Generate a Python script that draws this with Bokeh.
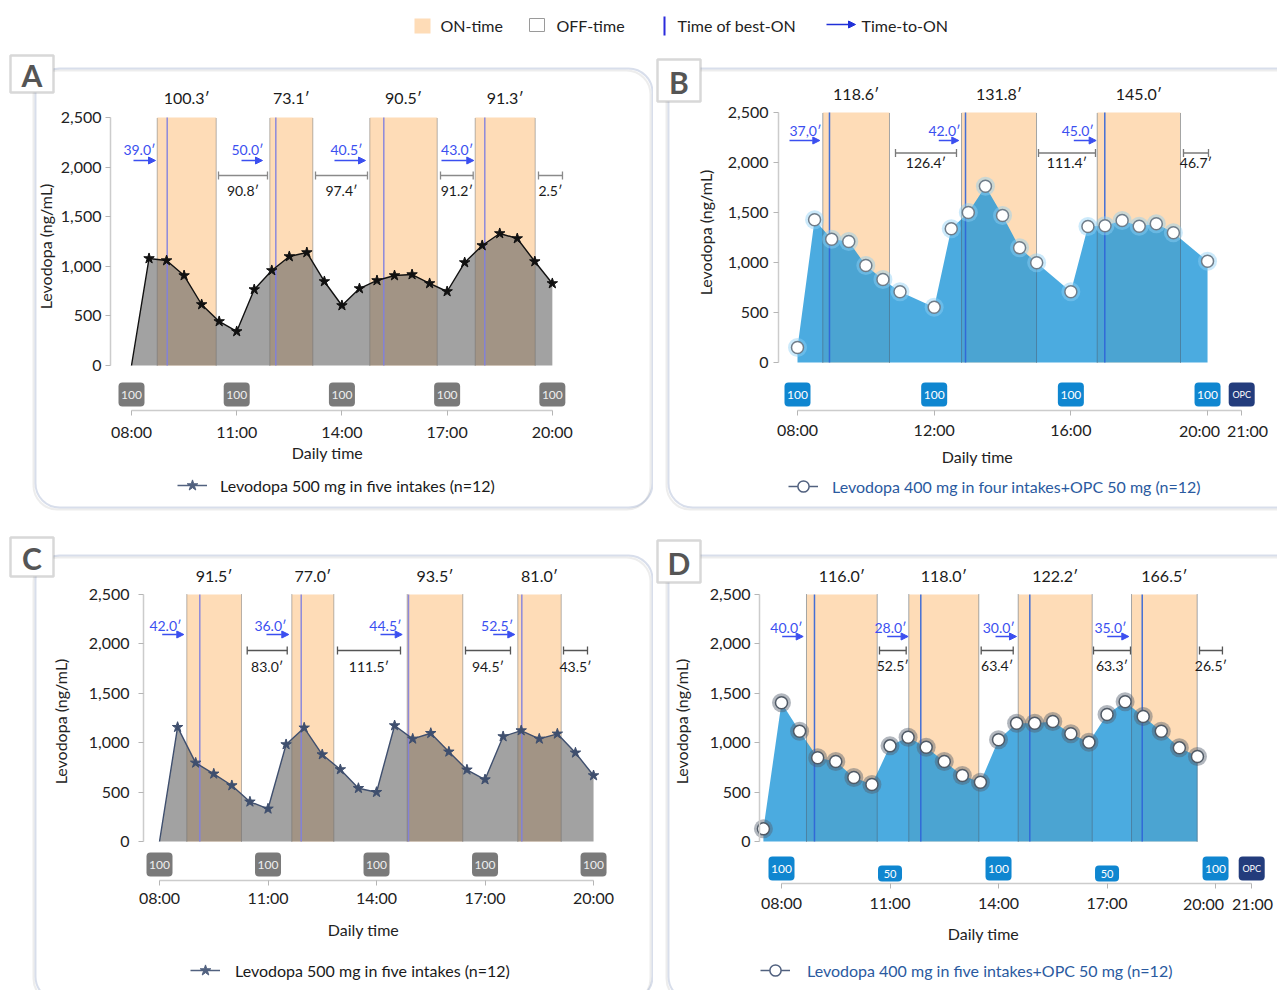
import math
from bokeh.plotting import figure
from bokeh.models import (Range1d, FixedTicker, NumeralTickFormatter, ColumnDataSource,
                          Arrow, NormalHead, Whisker, TeeHead, BoxAnnotation, Label,
                          Legend, LegendItem, LinearAxis)
from bokeh.layouts import column, row
from bokeh.core.properties import value
from bokeh.embed import file_html
from bokeh.resources import INLINE

FONT = "Lato"
NAN = float("nan")

# ---------------- DATA ----------------
# Panel A : Levodopa 500 mg in five intakes
a_t = [8.0, 8.5, 9.0, 9.5, 10.0, 10.5, 11.0, 11.5, 12.0, 12.5, 13.0, 13.5, 14.0,
       14.5, 15.0, 15.5, 16.0, 16.5, 17.0, 17.5, 18.0, 18.5, 19.0, 19.5, 20.0]
a_v = [0, 1079, 1058, 907, 615, 444, 343, 766, 958, 1099, 1139, 847, 605,
       776, 857, 907, 917, 827, 746, 1038, 1210, 1331, 1280, 1048, 827]
a_on_start = [8.733, 11.944, 14.795, 17.800]
a_on_end = [10.415, 13.170, 16.717, 19.511]
a_best = [9.018, 12.115, 15.194, 18.074]
a_on_lab = ["100.3′", "73.1′", "90.5′", "91.3′"]
a_off_start = [10.481, 13.247, 16.811, 19.605]
a_off_end = [11.878, 14.729, 17.743, 20.289]
a_off_lab = ["90.8′", "97.4′", "91.2′", "2.5′"]
a_tto_start = [8.057, 11.137, 13.788, 16.839]
a_tto_end = [8.684, 11.735, 14.672, 17.760]
a_tto_labx = [8.228, 11.308, 14.131, 17.287]
a_tto_lab = ["39.0′", "50.0′", "40.5′", "43.0′"]
a_dose_t = [8, 11, 14, 17, 20]
a_dose_lab = ["100", "100", "100", "100", "100"]
a_xticks = [8, 11, 14, 17, 20]
a_xlabels = ["08:00", "11:00", "14:00", "17:00", "20:00"]

# Panel B : Levodopa 400 mg in four intakes + OPC 50 mg
b_t = [8.0, 8.5, 9.0, 9.5, 10.0, 10.5, 11.0, 12.0, 12.5, 13.0, 13.5, 14.0, 14.5,
       15.0, 16.0, 16.5, 17.0, 17.5, 18.0, 18.5, 19.0, 20.0]
b_v = [150, 1427, 1233, 1210, 970, 830, 707, 553, 1337, 1500, 1763, 1470, 1147,
       997, 707, 1360, 1367, 1420, 1363, 1387, 1297, 1013]
b_on_start = [8.740, 12.800, 16.771]
b_on_end = [10.692, 14.995, 19.209]
b_best = [8.936, 12.917, 16.993]
b_on_lab = ["118.6′", "131.8′", "145.0′"]
b_off_start = [10.868, 15.053, 19.296]
b_off_end = [12.653, 16.721, 20.028]
b_off_lab = ["126.4′", "111.4′", "46.7′"]
b_tto_start = [7.766, 12.135, 16.086]
b_tto_end = [8.653, 12.720, 16.740]
b_tto_labx = [8.234, 12.302, 16.203]
b_tto_lab = ["37,0′", "42.0′", "45.0′"]
b_dose_t = [8, 12, 16, 20, 21]
b_dose_lab = ["100", "100", "100", "100", "OPC"]
b_xticks = [8, 12, 16, 20, 21]
b_xlabels = ["08:00", "12:00", "16:00", "20:00", "21:00"]

# Panel C : Levodopa 500 mg in five intakes
c_t = [8.0, 8.5, 9.0, 9.5, 10.0, 10.5, 11.0, 11.5, 12.0, 12.5, 13.0, 13.5, 14.0,
       14.5, 15.0, 15.5, 16.0, 16.5, 17.0, 17.5, 18.0, 18.5, 19.0, 19.5, 20.0]
c_v = [0, 1157, 796, 685, 567, 402, 331, 982, 1151, 880, 729, 539, 499,
       1174, 1039, 1096, 908, 726, 627, 1063, 1123, 1039, 1090, 898, 668]
c_on_start = [8.755, 11.658, 14.848, 17.906]
c_on_end = [10.267, 12.819, 16.385, 19.106]
c_best = [9.114, 11.918, 14.884, 18.017]
c_on_lab = ["91.5′", "77.0′", "93.5′", "81.0′"]
c_off_start = [10.425, 12.921, 16.460, 19.170]
c_off_end = [11.531, 14.663, 17.704, 19.833]
c_off_lab = ["83.0′", "111.5′", "94.5′", "43.5′"]
c_tto_start = [8.075, 10.958, 14.110, 17.226]
c_tto_end = [8.672, 11.575, 14.710, 17.823]
c_tto_labx = [8.166, 11.069, 14.248, 17.336]
c_tto_lab = ["42.0′", "36.0′", "44.5′", "52.5′"]
c_dose_t = [8, 11, 14, 17, 20]
c_dose_lab = ["100", "100", "100", "100", "100"]
c_xticks = [8, 11, 14, 17, 20]
c_xlabels = ["08:00", "11:00", "14:00", "17:00", "20:00"]

# Panel D : Levodopa 400 mg in five intakes + OPC 50 mg
d_t = [7.5, 8.0, 8.5, 9.0, 9.5, 10.0, 10.5, 11.0, 11.5, 12.0, 12.5, 13.0, 13.5,
       14.0, 14.5, 15.0, 15.5, 16.0, 16.5, 17.0, 17.5, 18.0, 18.5, 19.0, 19.5]
d_v = [128, 1404, 1116, 847, 810, 648, 577, 968, 1056, 954, 810, 668, 600,
       1029, 1197, 1197, 1214, 1090, 1005, 1285, 1414, 1265, 1116, 948, 860]
d_on_start = [8.691, 11.519, 14.544, 17.677]
d_on_end = [10.646, 13.455, 16.590, 19.493]
d_best = [8.912, 11.851, 14.865, 17.973]
d_on_lab = ["116.0′", "118.0′", "122.2′", "166.5′"]
d_off_start = [10.709, 13.521, 16.626, 19.557]
d_off_end = [11.447, 14.406, 17.649, 20.191]
d_off_lab = ["52.5′", "63.4′", "63.3′", "26.5′"]
d_tto_start = [8.019, 10.922, 13.917, 17.005]
d_tto_end = [8.600, 11.500, 14.497, 17.602]
d_tto_labx = [8.138, 11.014, 14.008, 17.096]
d_tto_lab = ["40.0′", "28.0′", "30.0′", "35.0′"]
d_dose_t = [8, 11, 14, 17, 20, 21]
d_dose_lab = ["100", "50", "100", "50", "100", "OPC"]
d_xticks = [8, 11, 14, 17, 20, 21]
d_xlabels = ["08:00", "11:00", "14:00", "17:00", "20:00", "21:00"]

y_ticks = [0, 500, 1000, 1500, 2000, 2500]

# ---------------- STYLE ----------------
PEACH = "#fedcb7"
TTO_BLUE = "#3b4ff0"
BORDER = "#7f92bd"
TXT = "#222222"


def build_panel(d, cfg):
    fx, fy, fw, fh = cfg["box"]
    x8, pph, y0, y25 = cfg["scale"]
    upp = 2500.0 / (y0 - y25)

    def X(px):
        return 8 + (px - x8) / pph

    def Y(py):
        return (y0 - py) * upp

    p = figure(width=fw, height=fh,
               x_range=Range1d(X(fx), X(fx + fw)), y_range=Range1d(Y(fy + fh), Y(fy)),
               x_axis_location=None, y_axis_location=None, min_border=0,
               output_backend="svg", toolbar_location=None)
    p.outline_line_color = None
    p.grid.visible = False
    p.background_fill_color = "white"
    p.border_fill_color = "white"

    # ---- axes (placed at fixed positions) ----
    def style_axis(ax):
        ax.axis_line_color = "#cccccc"
        ax.axis_line_width = 1.5
        ax.major_tick_line_color = "#b5b5b5"
        ax.minor_tick_line_color = None
        ax.major_tick_out = 5
        ax.major_tick_in = 0
        ax.major_label_text_font = FONT
        ax.major_label_text_font_size = "16px"
        ax.major_label_text_color = TXT

    yax = LinearAxis(fixed_location=X(cfg["yaxis_px"]), ticker=FixedTicker(ticks=y_ticks),
                     formatter=NumeralTickFormatter(format="0,0"), bounds=(0, 2500))
    style_axis(yax)
    yax.major_label_standoff = cfg["ystand"]
    p.add_layout(yax, "left")

    labels_of = {t: l for t, l in zip(d["xticks"], d["xlabels"])}
    sep = cfg.get("xsep", {})           # ticks whose labels sit beside the tick
    main_ticks = [t for t in d["xticks"] if t not in sep]
    xax = LinearAxis(fixed_location=Y(cfg["xaxis_py"]), ticker=FixedTicker(ticks=main_ticks),
                     bounds=(d["xticks"][0], d["xticks"][-1]))
    style_axis(xax)
    xax.major_label_overrides = {t: labels_of[t] for t in main_ticks}
    xax.major_label_standoff = cfg["xstand"]
    p.add_layout(xax, "below")
    if sep:
        xax2 = LinearAxis(fixed_location=Y(cfg["xaxis_py"]),
                          ticker=FixedTicker(ticks=sorted(sep)),
                          bounds=(d["xticks"][0], d["xticks"][-1]))
        style_axis(xax2)
        xax2.axis_line_color = None
        xax2.major_label_overrides = {t: "" for t in sep}
        xax2.major_label_text_font_size = "1px"
        p.add_layout(xax2, "below")
        for t, px in sep.items():
            p.add_layout(Label(x=X(px), y=Y(cfg["xtl_py"]), text=labels_of[t],
                               text_font=FONT, text_font_size="16px", text_color=TXT,
                               text_align="center", text_baseline="middle"))

    # axis titles
    lx, ly = cfg["xlab"]
    p.add_layout(Label(x=X(lx), y=Y(ly), text="Daily time", text_font=FONT,
                       text_font_size="16px", text_color=TXT, text_align="center",
                       text_baseline="middle"))
    lx, ly = cfg["ylab"]
    p.add_layout(Label(x=X(lx), y=Y(ly), text="Levodopa (ng/mL)", angle=math.pi / 2,
                       text_font=FONT, text_font_size="16px", text_color=TXT,
                       text_align="center", text_baseline="middle"))

    # ---- ON-time bands ----
    bs = ColumnDataSource(dict(l=d["on_start"], r=d["on_end"], best=d["best"],
                               mid=[(a + b) / 2 for a, b in zip(d["on_start"], d["on_end"])],
                               lab=d["on_lab"]))
    p.quad(left="l", right="r", bottom=0, top=2500, source=bs,
           fill_color=PEACH, line_color=None)

    # concentration area
    p.varea(x=d["t"], y1=0, y2=d["v"], fill_color=cfg["area"], fill_alpha=cfg["area_alpha"])

    # band edges and best-ON lines
    for col in ("l", "r"):
        p.segment(x0=col, y0=0, x1=col, y1=2500, source=bs, line_color=cfg["edge"],
                  line_dash="1 1", line_width=1)
    p.segment(x0="best", y0=0, x1="best", y1=2500, source=bs, line_color=cfg["best_c"],
              line_width=1.5, line_alpha=0.9)

    # curve + markers
    if cfg["kind"] == "star":
        p.line(d["t"], d["v"], line_color=cfg["line"], line_width=1.4)
        p.scatter(d["t"][1:], d["v"][1:], marker="star", size=11,
                  fill_color=cfg["line"], line_color=cfg["line"])
    else:
        p.scatter(d["t"], d["v"], marker="circle", size=19, fill_color=cfg["glow"],
                  fill_alpha=0.45, line_color=None)
        p.scatter(d["t"], d["v"], marker="circle", size=12, fill_color="white",
                  line_color=cfg["mk_edge"], line_width=1.5)

    # ON duration labels
    p.text(x="mid", y=Y(cfg["rows"]["dur"]), text="lab", source=bs, text_font=value(FONT),
           text_font_size="16px", text_align="center", text_baseline="middle",
           text_color="#1a1a1a")

    # OFF-time brackets
    n = len(d["off_start"])
    os_ = ColumnDataSource(dict(x0=d["off_start"], x1=d["off_end"],
                                y=[Y(cfg["rows"]["off"])] * n,
                                ly=[Y(cfg["rows"]["offl"])] * n,
                                xm=[(a + b) / 2 for a, b in zip(d["off_start"], d["off_end"])],
                                lab=d["off_lab"]))
    p.add_layout(Whisker(source=os_, base="y", lower="x0", upper="x1", dimension="width",
                         line_color=cfg["brk"], line_width=1.3,
                         lower_head=TeeHead(size=8, line_color=cfg["brk"], line_width=1.3),
                         upper_head=TeeHead(size=8, line_color=cfg["brk"], line_width=1.3)))
    p.text(x="xm", y="ly", text="lab", source=os_, text_font=value(FONT),
           text_font_size="14px", text_align="center", text_baseline="middle",
           text_color="#1a1a1a")

    # Time-to-ON arrows
    n = len(d["tto_start"])
    ts = ColumnDataSource(dict(x0=d["tto_start"], x1=d["tto_end"], lx=d["tto_labx"],
                               y=[Y(cfg["rows"]["tto"])] * n,
                               ly=[Y(cfg["rows"]["ttol"])] * n,
                               lab=d["tto_lab"]))
    p.add_layout(Arrow(source=ts, x_start="x0", y_start="y", x_end="x1", y_end="y",
                       line_color=TTO_BLUE, line_width=1.5,
                       end=NormalHead(size=7, fill_color=TTO_BLUE, line_color=TTO_BLUE)))
    p.text(x="lx", y="ly", text="lab", source=ts, text_font=value(FONT),
           text_font_size="14px", text_align="center", text_baseline="middle",
           text_color=TTO_BLUE)

    # dose boxes (rounded tags below the curve)
    cols = dict(l=[], r=[], b=[], t=[], y=[], c=[], fs=[])
    for tt, lab in zip(d["dose_t"], d["dose_lab"]):
        if lab == "50":
            yc, w, hgt, c, f = cfg["rows"]["dose50"], 24, 16, cfg["dose_c"], "11px"
        elif lab == "OPC":
            yc, w, hgt, c, f = cfg["rows"]["dose"], 26, 24, "#233c7c", "9px"
        else:
            yc, w, hgt, c, f = cfg["rows"]["dose"], 26, 24, cfg["dose_c"], "12px"
        cols["l"].append(tt - w / 2 / pph)
        cols["r"].append(tt + w / 2 / pph)
        cols["b"].append(Y(yc + hgt / 2))
        cols["t"].append(Y(yc - hgt / 2))
        cols["y"].append(Y(yc))
        cols["c"].append(c)
        cols["fs"].append(f)
    ds = ColumnDataSource(dict(cols, x=d["dose_t"], lab=d["dose_lab"]))
    p.quad(left="l", right="r", bottom="b", top="t", fill_color="c", line_color=None,
           border_radius=4, source=ds)
    p.text(x="x", y="y", text="lab", source=ds, text_font=value(FONT), text_font_size="fs",
           text_align="center", text_baseline="middle", text_color=cfg["dose_tc"])

    # legend key glyphs (NaN data: drawn only in the legend)
    r_line = p.line(x=[NAN], y=[NAN], line_color=cfg["leg_line"], line_width=1.5)
    rends = [r_line]
    if cfg["kind"] == "star":
        rends.append(p.scatter(x=[NAN], y=[NAN], marker="star", size=11,
                               fill_color=cfg["leg_line"], line_color=cfg["leg_line"]))
    else:
        rends.append(p.scatter(x=[NAN], y=[NAN], marker="circle", size=18,
                               fill_color=cfg["leg_glow"], fill_alpha=0.6, line_color=None))
        rends.append(p.scatter(x=[NAN], y=[NAN], marker="circle", size=11, fill_color="white",
                               line_color=cfg["leg_line"], line_width=1.5))
    gl, gy = cfg["leg"]
    leg = Legend(items=[LegendItem(label=cfg["leg_text"], renderers=rends)],
                 location=(gl - fx, fy + fh - (gy + 14)), orientation="horizontal",
                 padding=0, margin=0, spacing=0, glyph_width=30, glyph_height=28,
                 label_standoff=cfg["leg_std"], label_text_font=FONT,
                 label_text_font_size="16px", label_text_color=cfg["leg_tc"],
                 border_line_color=None, background_fill_alpha=0)
    p.add_layout(leg)

    # panel frame (with a soft shadow) and letter
    L, T, R, B = cfg["frame"]
    p.add_layout(BoxAnnotation(left=X(L - 2), right=X(R - 2), top=Y(T + 2), bottom=Y(B + 2),
                               fill_alpha=0, line_color="#c4c4c4", line_width=2,
                               border_radius=24))
    p.add_layout(BoxAnnotation(left=X(L), right=X(R), top=Y(T), bottom=Y(B),
                               fill_alpha=0, line_color=BORDER, line_width=2,
                               border_radius=24))
    L, T, R, B = cfg["letter_box"]
    p.add_layout(BoxAnnotation(left=X(L), right=X(R), top=Y(T), bottom=Y(B),
                               fill_color="white", fill_alpha=1, line_color="#7d7d7d",
                               line_width=2.5))
    p.add_layout(Label(x=X((L + R) / 2), y=Y((T + B) / 2 + 1), text=cfg["letter"],
                       text_font=FONT, text_font_size="30px", text_font_style="bold",
                       text_color="#555555", text_align="center", text_baseline="middle"))
    return p


def pack(prefix):
    g = globals()
    keys = ["t", "v", "on_start", "on_end", "best", "on_lab", "off_start", "off_end",
            "off_lab", "tto_start", "tto_end", "tto_labx", "tto_lab", "dose_t", "dose_lab",
            "xticks", "xlabels"]
    return {k: g[prefix + "_" + k] for k in keys}


common_star = dict(kind="star", area="#646464", area_alpha=0.6, edge="#6f6f6f",
                   best_c="#7f7fe0", dose_c="#7a7a7a", dose_tc="#eeeeee",
                   leg_line="#51617f", leg_text="Levodopa 500 mg in five intakes (n=12)",
                   leg_tc="#1a1a1a")
common_circ = dict(kind="circle", area="#1e96d8", area_alpha=0.8, edge="#4b5d6e",
                   best_c="#2f63d8", dose_c="#0f86d0", dose_tc="white",
                   leg_line="#51617f", leg_tc="#2a5aa0")

cfgA = dict(common_star, box=(0, 50, 653, 470), scale=(131, 35.07, 365, 117),
            yaxis_px=110, xaxis_py=410, xstand=6, ystand=4,
            xlab=(327, 452), ylab=(45, 246), line="#111111", brk="#8a8a8a",
            rows=dict(dur=97, off=175, offl=190, tto=160, ttol=149, dose=394, dose50=394),
            leg=(177, 485), leg_std=13,
            frame=(35, 68, 652, 507), letter_box=(10, 55, 53, 92), letter="A")
cfgB = dict(common_circ, box=(653, 50, 624, 470), scale=(797, 34.17, 362, 112),
            yaxis_px=778, xaxis_py=410, xstand=4, ystand=5,
            xsep={20: 1199, 21: 1247}, xtl_py=430,
            xlab=(977, 456), ylab=(705, 232), glow="#8fd0f7", leg_glow="#9fcff2",
            mk_edge="#6f7d8a", brk="#7a7a7a",
            rows=dict(dur=93, off=152.5, offl=162, tto=140, ttol=129.5, dose=394, dose50=394),
            leg=(788, 486), leg_std=14,
            leg_text="Levodopa 400 mg in four intakes+OPC 50 mg (n=12)",
            frame=(668, 68, 1310, 507), letter_box=(657, 59, 700, 101), letter="B")
cfgC = dict(common_star, box=(0, 520, 653, 470), scale=(159, 36.17, 841, 594),
            yaxis_px=143, xaxis_py=880, xstand=2, ystand=9,
            xlab=(363, 929), ylab=(60, 721), line="#3f4f6e", brk="#555555",
            rows=dict(dur=575, off=650, offl=666, tto=634, ttol=625, dose=864, dose50=864),
            leg=(190, 970), leg_std=15,
            frame=(35, 555, 652, 1000), letter_box=(10, 537, 53, 576), letter="C")
cfgD = dict(common_circ, box=(653, 520, 624, 470), scale=(781, 36.17, 841, 594),
            yaxis_px=759, xaxis_py=883, xstand=4, ystand=4,
            xsep={20: 1203, 21: 1252}, xtl_py=903,
            xlab=(983, 933), ylab=(681, 721), glow="#55606e", leg_glow="#8a96a6",
            mk_edge="#505a66", brk="#555555",
            rows=dict(dur=575, off=650, offl=665, tto=636, ttol=626.5, dose=868, dose50=873),
            leg=(760, 970), leg_std=17,
            leg_text="Levodopa 400 mg in five intakes+OPC 50 mg (n=12)",
            frame=(668, 555, 1310, 1000), letter_box=(657, 540, 700, 582), letter="D")

pA = build_panel(pack("a"), cfgA)
pB = build_panel(pack("b"), cfgB)
pC = build_panel(pack("c"), cfgC)
pD = build_panel(pack("d"), cfgD)

# ---------------- header key ----------------
key_labels = ["ON-time", "OFF-time", "Time of best-ON", "Time-to-ON"]
h = figure(width=1277, height=50, x_range=Range1d(0, 1277), y_range=Range1d(50, 0),
           x_axis_location=None, y_axis_location=None, min_border=0,
           output_backend="svg", toolbar_location=None)
h.outline_line_color = None
h.grid.visible = False
h.quad(left=[414], right=[430], top=[18], bottom=[33], fill_color=PEACH, line_color=None)
h.quad(left=[529], right=[544], top=[18], bottom=[31], fill_color="white",
       line_color="#9a9a9a", line_width=1)
h.segment(x0=[664], y0=[16], x1=[664], y1=[35], line_color="#2b2bdc", line_width=2)
h.add_layout(Arrow(x_start=826, y_start=24, x_end=855, y_end=24, line_color="#2030d8",
                   line_width=1.5, end=NormalHead(size=7, fill_color="#2030d8",
                                                  line_color="#2030d8")))
h.text(x=[440, 556, 677, 861], y=[25, 25, 25, 25], text=key_labels, text_font=value(FONT),
       text_font_size="16px", text_align="left", text_baseline="middle", text_color=TXT)

layout = column(h, row(pA, pB), row(pC, pD))
open("out.html", "w").write(file_html(layout, INLINE))
